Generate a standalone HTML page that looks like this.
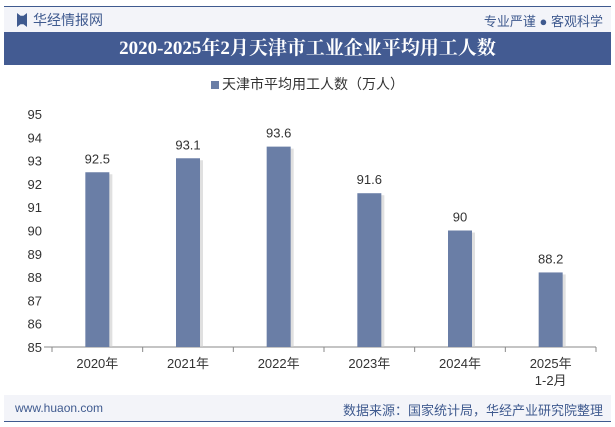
<!DOCTYPE html>
<html><head><meta charset="utf-8"><style>
body{margin:0;width:615px;height:427px;background:#fff;font-family:"Liberation Sans","Noto Sans CJK SC",sans-serif;overflow:hidden;position:relative}
</style></head><body>
<div style="position:absolute;left:4px;top:6px;width:607px;height:26px;background:#f3f4f9;border-top:1px solid #3f5a8f"></div>
<div style="position:absolute;left:17px;top:13px;width:10px;height:14px;background:#3f5a8f;clip-path:polygon(0 0,35% 20%,65% 20%,100% 0,100% 100%,65% 80%,35% 80%,0 100%)"></div>
<div style="position:absolute;left:33px;top:10px;font-size:14px;color:#3f5a8f">华经情报网</div>
<div style="position:absolute;right:12px;top:11px;font-size:13px;color:#3f5a8f">专业严谨 ● 客观科学</div>
<div style="position:absolute;left:4px;top:32px;width:607px;height:33px;background:#435b92;color:#fff;font-family:'Liberation Serif','Noto Serif CJK SC',serif;font-weight:bold;font-size:19px;text-align:center;line-height:33px">2020-2025年2月天津市工业企业平均用工人数</div>
<div style="position:absolute;left:0;width:615px;top:74px;text-align:center;font-size:14px;color:#333"><span style="display:inline-block;width:8px;height:8px;background:#6a7ea6;margin-right:3px"></span>天津市平均用工人数（万人）</div>
<svg id="chart" width="615" height="427" style="position:absolute;left:0;top:0"></svg>
<div style="position:absolute;left:4px;top:395px;width:607px;height:26px;background:#f3f4f9;border-bottom:1px solid #3f5a8f"></div>
<div style="position:absolute;left:15px;top:401px;font-size:12px;color:#3f5a8f">www.huaon.com</div>
<div style="position:absolute;right:12px;top:400px;font-size:13px;color:#3f5a8f">数据来源：国家统计局，华经产业研究院整理</div>
<script>
const categories=["2020年","2021年","2022年","2023年","2024年","2025年\n1-2月"];
const values=[92.5,93.1,93.6,91.6,90,88.2];
const valueLabels=["92.5","93.1","93.6","91.6","90","88.2"];
const yTicks=[85,86,87,88,89,90,91,92,93,94,95];
const svg=document.getElementById('chart');const NS='http://www.w3.org/2000/svg';
const x0=52,x1=596,yB=347,yT=114,vMin=85,vMax=95;
const y=v=>yB-(v-vMin)/(vMax-vMin)*(yB-yT);
const bw=(x1-x0)/categories.length;
const xc=i=>x0+bw*(i+0.5);
function mk(t,a){const e=document.createElementNS(NS,t);for(const k in a)e.setAttribute(k,a[k]);svg.appendChild(e);return e;}
yTicks.forEach(t=>{const e=mk('text',{x:42,y:y(t)+5,'text-anchor':'end','font-size':13,fill:'#333'});e.textContent=t;

});
const ax=mk('line',{x1:x0,y1:yB,x2:x1,y2:yB,stroke:'#888'});


mk('line',{x1:44,y1:yB,x2:x0,y2:yB,stroke:'#888'});
for(let i=0;i<=categories.length;i++){mk('line',{x1:x0+bw*i,y1:yB,x2:x0+bw*i,y2:yB+5,stroke:'#888'});}
values.forEach((v,i)=>{
 const sh=mk('rect',{x:xc(i)-12+3,y:y(v)+2,width:24,height:yB-y(v)-2,fill:'#ccc',opacity:0.6});
 const r=mk('rect',{x:xc(i)-12,y:y(v),width:24,height:yB-y(v),fill:'#6a7ea6'});
 
 
 const l=mk('text',{x:xc(i),y:y(v)-9,'text-anchor':'middle','font-size':13,fill:'#333'});l.textContent=valueLabels[i];
 
 
 categories[i].split('\n').forEach((s,j)=>{const c=mk('text',{x:xc(i),y:368+j*17,'text-anchor':'middle','font-size':13,fill:'#333'});c.textContent=s;
 
 });
});
</script>
</body></html>
